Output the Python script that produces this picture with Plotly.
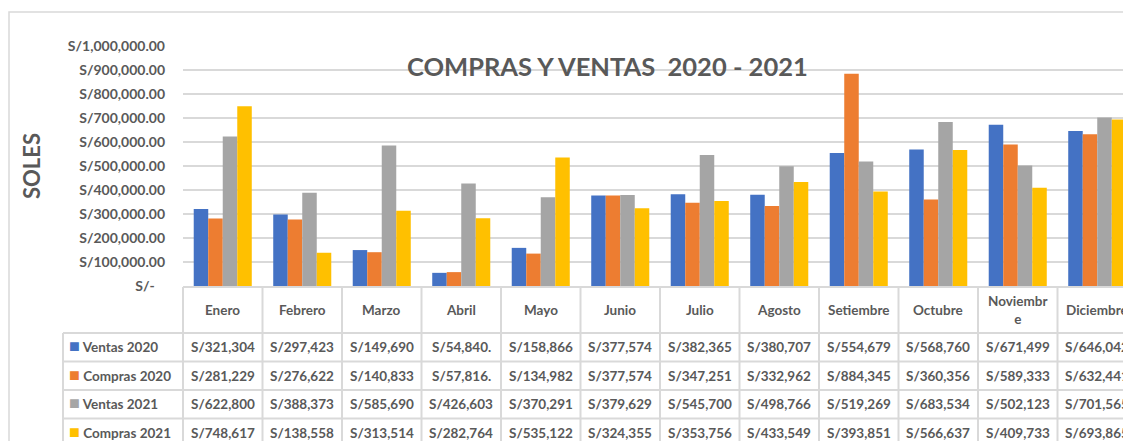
import plotly.graph_objects as go

months = ["Enero", "Febrero", "Marzo", "Abril", "Mayo", "Junio", "Julio",
          "Agosto", "Setiembre", "Octubre", "Noviembre", "Diciembre"]
ventas_2020 = [321304, 297423, 149690, 54840, 158866, 377574, 382365,
               380707, 554679, 568760, 671499, 646042]
compras_2020 = [281229, 276622, 140833, 57816, 134982, 377574, 347251,
                332962, 884345, 360356, 589333, 632441]
ventas_2021 = [622800, 388373, 585690, 426603, 370291, 379629, 545700,
               498766, 519269, 683534, 502123, 701565]
compras_2021 = [748617, 138558, 313514, 282764, 535122, 324355, 353756,
                433549, 393851, 566637, 409733, 693865]
series_names = ["Ventas 2020", "Compras 2020", "Ventas 2021", "Compras 2021"]
series_values = [ventas_2020, compras_2020, ventas_2021, compras_2021]
colors = ["#4472C4", "#ED7D31", "#A5A5A5", "#FFC000"]
tick_values = [0, 100000, 200000, 300000, 400000, 500000, 600000, 700000,
               800000, 900000, 1000000]

FONT = "Lato"
TXT = "#595959"
GRID = "#D9D9D9"

# layout geometry (page pixels; the page body adds an 8px offset)
W, H = 1131, 441
OFF = 8
P_LEFT, P_RIGHT, P_TOP, P_BOTTOM = 183, 1137, 46, 286
PW, PH = P_RIGHT - P_LEFT, P_BOTTOM - P_TOP

def px(x):
    return (x - P_LEFT) / PW

def py(y):
    return (P_BOTTOM - y) / PH

TABLE_TOP, HEADER_BOTTOM, ROW_H, LABEL_LEFT = 287, 333, 28.5, 63
row_lines = [HEADER_BOTTOM + ROW_H * k for k in range(len(series_names) + 1)]
TABLE_BOTTOM = row_lines[-1]

def cell_text(v):
    return f"S/{v:,.2f}"[:9]

def header_text(m):
    return "Noviembr<br>e" if m == "Noviembre" else m

tfont = dict(family=FONT, size=13.5, color=TXT, weight="bold")

fig = go.Figure()
for name, vals, col in zip(series_names, series_values, colors):
    fig.add_trace(go.Bar(x=months, y=vals, name=name, marker_color=col,
                         marker_line_width=0, showlegend=False))

annotations = [
    dict(text="COMPRAS Y VENTAS\u00a0 2020 - 2021", xref="paper", yref="paper",
         x=px(607), y=py(66), xanchor="center", yanchor="middle", showarrow=False,
         font=dict(family=FONT, size=25.5, color=TXT, weight="bold")),
    dict(text="SOLES", xref="paper", yref="paper", x=px(31), y=py(166),
         xanchor="center", yanchor="middle", textangle=-90, showarrow=False,
         font=dict(family=FONT, size=22, color=TXT, weight="bold")),
]
# header row
for m in months:
    annotations.append(dict(text=header_text(m), xref="x", yref="paper", x=m,
                            y=py((TABLE_TOP + HEADER_BOTTOM) / 2), xanchor="center",
                            yanchor="middle", showarrow=False, font=tfont))
# data rows
for r, (name, vals, col) in enumerate(zip(series_names, series_values, colors)):
    row_mid = (row_lines[r] + row_lines[r + 1]) / 2
    yc = py(row_mid)
    annotations.append(dict(text=f'<span style="color:{col};font-size:18px">■</span> {name}',
                            xref="paper", yref="paper", x=px(LABEL_LEFT + 4), y=py(row_mid - 2),
                            xanchor="left", yanchor="middle", showarrow=False, font=tfont))
    for m, v in zip(months, vals):
        annotations.append(dict(text=cell_text(v), xref="x", yref="paper", x=m, y=yc,
                                xanchor="center", yanchor="middle", showarrow=False,
                                font=tfont))

line = dict(color=GRID, width=2)
shapes = [
    dict(type="rect", xref="paper", yref="paper", layer="below",
         x0=px(9), x1=1.1, y0=-1.0, y1=py(12), line=dict(color=GRID, width=1.5)),
    dict(type="line", xref="paper", yref="paper", x0=0, x1=1.1,
         y0=py(TABLE_TOP), y1=py(TABLE_TOP), line=line),
    dict(type="line", xref="x domain", yref="paper", x0=0, x1=0,
         y0=py(TABLE_TOP), y1=py(TABLE_BOTTOM), line=line),
    dict(type="line", xref="paper", yref="paper", x0=px(LABEL_LEFT), x1=px(LABEL_LEFT),
         y0=py(HEADER_BOTTOM), y1=py(TABLE_BOTTOM), line=line),
]
for yl in row_lines:
    shapes.append(dict(type="line", xref="paper", yref="paper", x0=px(LABEL_LEFT),
                       x1=1.1, y0=py(yl), y1=py(yl), line=line))
for i in range(1, len(months) + 1):
    shapes.append(dict(type="line", xref="x", yref="paper", x0=i - 0.5, x1=i - 0.5,
                       y0=py(TABLE_TOP), y1=py(TABLE_BOTTOM), line=line))

fig.update_layout(
    width=W, height=H,
    margin=dict(l=P_LEFT - OFF, r=W - (P_RIGHT - OFF), t=P_TOP - OFF, b=H - (P_BOTTOM - OFF)),
    paper_bgcolor="white", plot_bgcolor="white",
    barmode="group", bargap=0.27, bargroupgap=0,
    xaxis=dict(showticklabels=False, showgrid=False, zeroline=False,
               showline=False, ticks="", range=[-0.5, len(months) - 0.5]),
    yaxis=dict(range=[0, 1000000], tickvals=tick_values,
               ticktext=["S/-\u00a0\u00a0\u00a0"] + [f"S/{v:,.2f}" for v in tick_values[1:]],
               tickfont=dict(family=FONT, size=14, color=TXT, weight="bold"),
               ticklabelstandoff=17, showgrid=True, gridcolor=GRID, gridwidth=1.5,
               zeroline=False, showline=False, ticks=""),
    font=dict(family=FONT, color=TXT),
    annotations=annotations,
    shapes=shapes,
)

fig.write_html("out.html")
